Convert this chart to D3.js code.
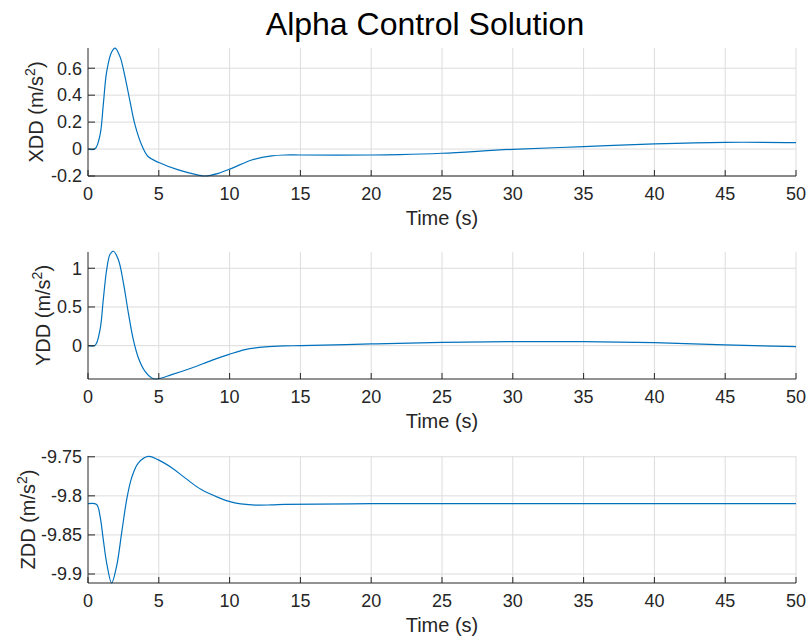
<!DOCTYPE html>
<html>
<head>
<meta charset="utf-8">
<script src="https://cdn.jsdelivr.net/npm/d3@7"></script>
<style>
    body { margin: 0; background: #fff; }
    svg { display: block; font-family: "Liberation Sans", Arial, sans-serif; }
</style>
</head>
<body>
<svg id="chart" width="807" height="641"></svg>
<script>
// Time samples (s) and accelerations
const tX = [0, 0.5, 0.85, 1.08, 1.32, 1.67, 1.91, 2.26, 2.61, 2.97, 3.32, 3.79, 4.26, 4.97, 6.38, 7.79, 8.26, 9.2, 10.15, 11.56, 12.97, 13.9, 15, 20, 22, 25, 30, 35, 40, 45, 50];
const xdd = [0, 0.002, 0.105, 0.33, 0.575, 0.72, 0.749, 0.686, 0.538, 0.352, 0.179, 0.03, -0.057, -0.098, -0.155, -0.193, -0.2, -0.18, -0.143, -0.081, -0.051, -0.044, -0.044, -0.044, -0.041, -0.031, -0.002, 0.018, 0.038, 0.05, 0.048];

const tY = [0, 0.5, 0.85, 1.08, 1.32, 1.55, 1.79, 2.14, 2.5, 2.85, 3.2, 3.56, 4.03, 4.5, 4.85, 5.91, 7.32, 8.73, 9.91, 11.09, 12.5, 13.9, 15, 20, 25, 30, 35, 40, 45, 50];
const ydd = [0, 0.004, 0.208, 0.596, 0.984, 1.178, 1.22, 1.113, 0.812, 0.424, 0.078, -0.158, -0.332, -0.417, -0.43, -0.374, -0.288, -0.19, -0.116, -0.05, -0.015, -0.002, 0, 0.023, 0.043, 0.053, 0.053, 0.04, 0.01, -0.012];

const tZ = [0, 0.61, 0.85, 1.08, 1.32, 1.67, 2.02, 2.38, 2.73, 3.08, 3.55, 4.26, 4.97, 5.91, 6.85, 8.0, 9.2, 10.15, 11.56, 12.97, 13.9, 20, 30, 40, 50];
const zdd = [-9.81, -9.811, -9.826, -9.856, -9.886, -9.9115, -9.89, -9.847, -9.805, -9.777, -9.758, -9.7495, -9.754, -9.764, -9.777, -9.792, -9.802, -9.808, -9.8116, -9.8116, -9.811, -9.81, -9.81, -9.81, -9.81];

const timeTicks = [0, 5, 10, 15, 20, 25, 30, 35, 40, 45, 50];
const xddTicks = [-0.2, 0, 0.2, 0.4, 0.6];
const yddTicks = [0, 0.5, 1];
const zddTicks = [-9.9, -9.85, -9.8, -9.75];

const figTitle = "Alpha Control Solution";
const timeLabel = "Time (s)";

const svg = d3.select("#chart");
const left = 88, right = 796;
const axisColor = "#262626";
const gridColor = "#dcdcdc";
const lineColor = "#0072BD";

const x = d3.scaleLinear().domain([0, 50]).range([left, right]);

const panels = [
    { t: tX, v: xdd, top: 48, bottom: 176, domain: [-0.2, 0.75], ticks: xddTicks, name: "XDD", labelX: 43 },
    { t: tY, v: ydd, top: 252, bottom: 379, domain: [-0.43, 1.21], ticks: yddTicks, name: "YDD", labelX: 50 },
    { t: tZ, v: zdd, top: 456, bottom: 583, domain: [-9.9115, -9.749], ticks: zddTicks, name: "ZDD", labelX: 35 }
];

svg.append("text")
    .attr("x", 425)
    .attr("y", 35)
    .attr("text-anchor", "middle")
    .attr("font-size", 32)
    .attr("fill", "#000")
    .text(figTitle);

panels.forEach(p => {
    const y = d3.scaleLinear().domain(p.domain).range([p.bottom, p.top]);
    const g = svg.append("g");

    // grid
    g.selectAll(".vgrid").data(timeTicks.filter(d => d > 0)).enter().append("line")
        .attr("x1", d => x(d)).attr("x2", d => x(d))
        .attr("y1", p.top).attr("y2", p.bottom)
        .attr("stroke", gridColor).attr("stroke-width", 1);
    g.selectAll(".hgrid").data(p.ticks).enter().append("line")
        .attr("x1", left).attr("x2", right)
        .attr("y1", d => y(d)).attr("y2", d => y(d))
        .attr("stroke", gridColor).attr("stroke-width", 1);

    // data line
    const pts = p.t.map((t, i) => [t, p.v[i]]);
    g.append("path")
        .datum(pts)
        .attr("fill", "none")
        .attr("stroke", lineColor)
        .attr("stroke-width", 1.2)
        .attr("d", d3.line().x(d => x(d[0])).y(d => y(d[1])).curve(d3.curveCatmullRom.alpha(0.5)));

    // axis lines
    g.append("line").attr("x1", left).attr("x2", right)
        .attr("y1", p.bottom).attr("y2", p.bottom)
        .attr("stroke", axisColor).attr("stroke-width", 1);
    g.append("line").attr("x1", left).attr("x2", left)
        .attr("y1", p.top).attr("y2", p.bottom)
        .attr("stroke", axisColor).attr("stroke-width", 1);

    // ticks (inward)
    g.selectAll(".xt").data(timeTicks).enter().append("line")
        .attr("x1", d => x(d)).attr("x2", d => x(d))
        .attr("y1", p.bottom).attr("y2", p.bottom - 6)
        .attr("stroke", axisColor);
    g.selectAll(".yt").data(p.ticks).enter().append("line")
        .attr("x1", left).attr("x2", left + 7)
        .attr("y1", d => y(d)).attr("y2", d => y(d))
        .attr("stroke", axisColor);

    // tick labels
    g.selectAll(".xl").data(timeTicks).enter().append("text")
        .attr("x", d => x(d))
        .attr("y", p.bottom + 24)
        .attr("text-anchor", "middle")
        .attr("font-size", 18)
        .attr("fill", axisColor)
        .text(d => String(d));
    g.selectAll(".yl").data(p.ticks).enter().append("text")
        .attr("x", 82)
        .attr("y", d => y(d))
        .attr("dy", "0.35em")
        .attr("text-anchor", "end")
        .attr("font-size", 18)
        .attr("fill", axisColor)
        .text(d => String(d));

    // axis labels
    g.append("text")
        .attr("x", (left + right) / 2)
        .attr("y", p.bottom + 49)
        .attr("text-anchor", "middle")
        .attr("font-size", 20)
        .attr("fill", axisColor)
        .text(timeLabel);

    const yl = g.append("text")
        .attr("transform", `translate(${p.labelX},${(p.top + p.bottom) / 2}) rotate(-90)`)
        .attr("text-anchor", "middle")
        .attr("font-size", 20)
        .attr("fill", axisColor);
    yl.append("tspan").text(p.name + " (m/s");
    yl.append("tspan").attr("font-size", 14).attr("dy", -8).text("2");
    yl.append("tspan").attr("dy", 8).text(")");
});
</script>
</body>
</html>
